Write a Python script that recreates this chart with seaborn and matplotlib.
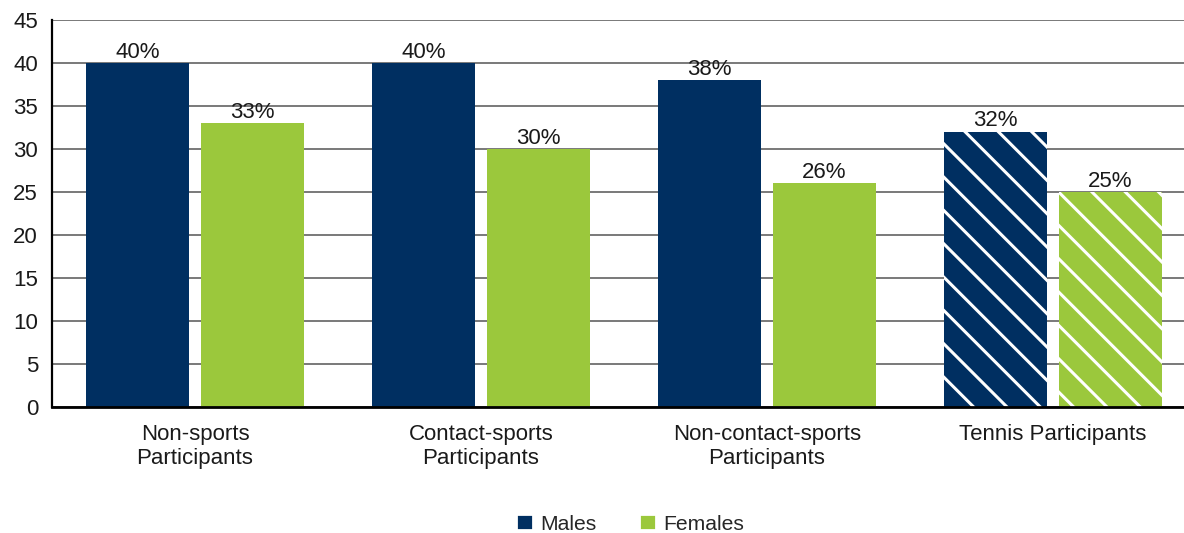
import pandas as pd
import matplotlib.pyplot as plt
import seaborn as sns
from matplotlib.patches import Patch

# chart values
categories = ['Non-sports\nParticipants', 'Contact-sports\nParticipants',
              'Non-contact-sports\nParticipants', 'Tennis Participants']
groups = ['Males', 'Females']
males = [40, 40, 38, 32]
females = [33, 30, 26, 25]
y_ticks = [0, 5, 10, 15, 20, 25, 30, 35, 40, 45]

colors = {'Males': '#002F61', 'Females': '#9BC83C'}

df = pd.DataFrame({
    'category': categories * 2,
    'group': ['Males'] * 4 + ['Females'] * 4,
    'value': males + females,
})

sns.set_theme(style='white')
plt.rcParams['font.family'] = ['Liberation Sans', 'DejaVu Sans']
plt.rcParams['hatch.linewidth'] = 1.1

# high dpi so the hatch density gives wide stripes
fig = plt.figure(figsize=(5.92, 2.665), dpi=200)
ax = fig.add_axes([52 / 1184, 126 / 533, 1144 / 1184, 387 / 533])

sns.barplot(data=df, x='category', y='value', hue='group', hue_order=groups,
            order=categories, palette=colors, width=0.8, gap=0.1,
            saturation=1, legend=False, ax=ax, zorder=3)

for p in ax.patches:
    p.set_linewidth(0)
    cx = p.get_x() + p.get_width() / 2
    if cx > 2.5:
        # tennis bars get white diagonal stripes
        p.set_hatch('\\\\')
        p.set_edgecolor('white')

# value labels
for i, c in enumerate(categories):
    ax.text(i - 0.2, males[i] + 0.05, f'{males[i]}%', ha='center', va='bottom',
            fontsize=8, color='#1a1a1a', zorder=4)
    ax.text(i + 0.2, females[i] + 0.05, f'{females[i]}%', ha='center', va='bottom',
            fontsize=8, color='#1a1a1a', zorder=4)

ax.set_xlim(-0.5, 3.5)
ax.set_ylim(0, 45)
ax.set_yticks(y_ticks)
ax.yaxis.grid(True, color='#555555', linewidth=0.55)
ax.set_axisbelow(True)
ax.tick_params(axis='y', length=0, pad=5.0, labelsize=8, labelcolor='#1a1a1a')
ax.tick_params(axis='x', length=0, pad=6, labelsize=8, labelcolor='#1a1a1a')
ax.set_xlabel('')
ax.set_ylabel('')

for s in ['top', 'right']:
    ax.spines[s].set_visible(False)
ax.spines['left'].set_color('black')
ax.spines['left'].set_linewidth(0.8)
ax.spines['bottom'].set_color('black')
ax.spines['bottom'].set_linewidth(1.0)
ax.spines['bottom'].set_zorder(5)

handles = [Patch(facecolor=colors[g], label=g) for g in groups]
fig.legend(handles=handles, loc='center', bbox_to_anchor=(0.532, 0.017),
           ncol=2, frameon=False, fontsize=7.6, handlelength=0.8,
           handleheight=0.8, handletextpad=0.35, columnspacing=2.0)

fig.savefig('out.png', dpi=200)
